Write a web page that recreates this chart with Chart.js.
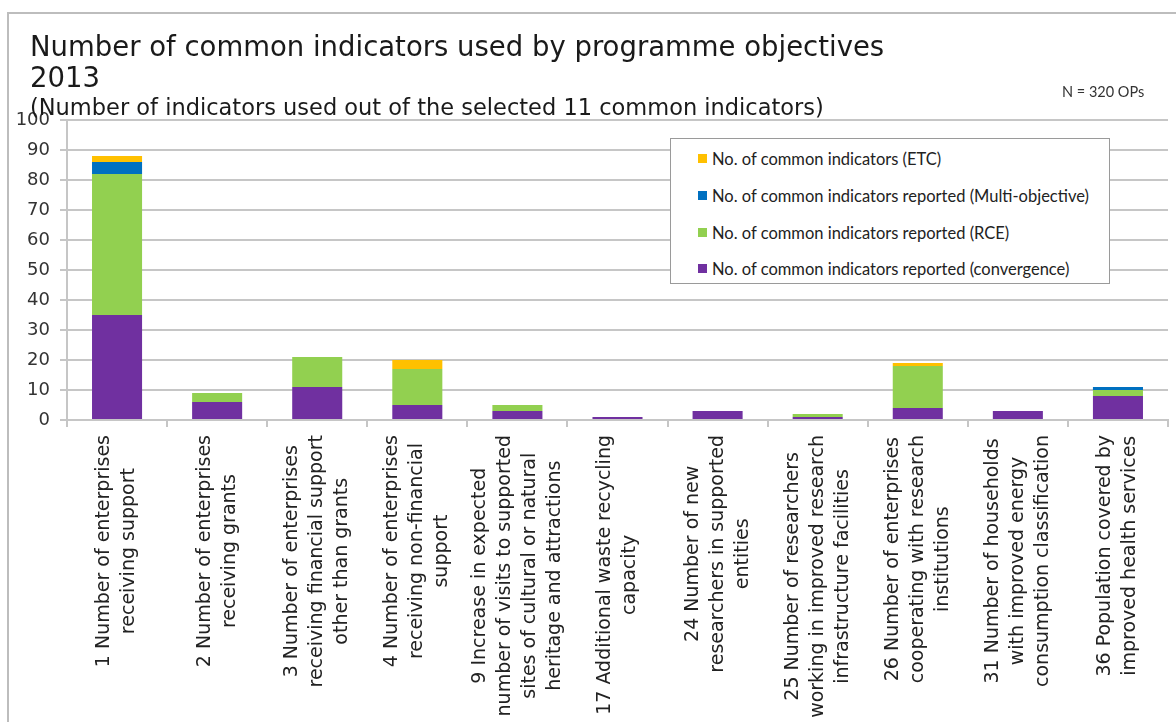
<!DOCTYPE html>
<html>
<head>
<meta charset="utf-8">
<title>Common indicators by programme objective</title>
<script src="https://cdn.jsdelivr.net/npm/chart.js@4.4.1/dist/chart.umd.min.js"></script>
<style>
  html, body { margin: 0; padding: 0; background: #fff; overflow: hidden; }
  #wrap { position: relative; width: 1176px; height: 722px; }
  #frame { position: absolute; left: 7px; top: 12px; right: -10px; bottom: -10px;
           border-left: 2px solid #bdbdbd; border-top: 2px solid #bdbdbd; }
  #canvas { position: absolute; left: 0; top: 0; }
  #legend { position: absolute; left: 670px; top: 138px; width: 440px; height: 146px;
            border: 1px solid #9a9a9a; background: #fff; box-sizing: border-box;
            font-family: Lato, "Liberation Sans", sans-serif; font-size: 16.5px; color: #222; }
  #legend .item { position: absolute; left: 27px; height: 20px; line-height: 20px; white-space: nowrap; }
  #legend .box { display: inline-block; width: 9px; height: 9px; margin-right: 5px; vertical-align: 2px; }
</style>
</head>
<body>
<div id="wrap">
  <div id="frame"></div>
  <canvas id="canvas" width="1176" height="722"></canvas>
  <div id="legend"></div>
</div>
<script>
// indicator categories (each entry is the wrapped label lines)
var indicators = [
  ["1 Number of enterprises", "receiving support"],
  ["2 Number of enterprises", "receiving grants"],
  ["3 Number of enterprises", "receiving financial support", "other than grants"],
  ["4 Number of enterprises", "receiving non-financial", "support"],
  ["9 Increase in expected", "number of visits to supported", "sites of cultural or natural", "heritage and attractions"],
  ["17 Additional waste recycling", "capacity"],
  ["24 Number of new", "researchers in supported", "entities"],
  ["25 Number of researchers", "working in improved research", "infrastructure facilities"],
  ["26 Number of enterprises", "cooperating with research", "institutions"],
  ["31 Number of households", "with improved energy", "consumption classification"],
  ["36 Population covered by", "improved health services"]
];

// number of OPs reporting each indicator, per objective
var convergence    = [35, 6, 11, 5, 3, 1, 3, 1, 4, 3, 8];
var rce            = [47, 3, 10, 12, 2, 0, 0, 1, 14, 0, 2];
var multiObjective = [4, 0, 0, 0, 0, 0, 0, 0, 0, 0, 1];
var etc            = [2, 0, 0, 3, 0, 0, 0, 0, 1, 0, 0];

var yTicks = [0, 10, 20, 30, 40, 50, 60, 70, 80, 90, 100];

var titleLines = ["Number of common indicators used by programme objectives", "2013"];
var subTitle = "(Number of indicators used out of the selected 11 common indicators)";
var sampleNote = "N = 320 OPs";

var axisFont = "DejaVu Sans";
var gridColor = "#c6c6c6";

// header texts: title, year and subtitle
var headerPlugin = {
  id: 'header',
  afterDraw: function(chart) {
    var ctx = chart.ctx;
    ctx.save();
    ctx.fillStyle = '#1a1a1a';
    ctx.textAlign = 'left';
    ctx.textBaseline = 'alphabetic';
    ctx.font = '27.5px "' + axisFont + '"';
    ctx.fillText(titleLines[0], 30, 56);
    ctx.fillText(titleLines[1], 30, 87);
    ctx.font = '22.5px "' + axisFont + '"';
    ctx.fillText(subTitle, 30, 115);
    ctx.fillStyle = '#333';
    ctx.font = '14.5px Lato, "Liberation Sans"';
    ctx.fillText(sampleNote, 1062, 97);
    ctx.restore();
  }
};

// rotated, centred multi-line category labels under the x axis
var xLabelPlugin = {
  id: 'xLabels',
  afterDraw: function(chart) {
    var ctx = chart.ctx;
    var xs = chart.scales.x;
    var top = xs.top + 15;
    var lineGap = 25;
    ctx.save();
    ctx.font = '19px "' + axisFont + '"';
    ctx.fillStyle = '#222';
    ctx.textAlign = 'center';
    ctx.textBaseline = 'middle';
    chart.data.labels.forEach(function(lines, i) {
      var maxW = 0;
      lines.forEach(function(l) { maxW = Math.max(maxW, ctx.measureText(l).width); });
      var x = xs.getPixelForValue(i);
      ctx.save();
      ctx.translate(x, top + maxW / 2);
      ctx.rotate(-Math.PI / 2);
      lines.forEach(function(l, k) {
        ctx.fillText(l, 0, (k - (lines.length - 1) / 2) * lineGap);
      });
      ctx.restore();
    });
    ctx.restore();
  }
};

var datasets = [
  { label: "No. of common indicators reported (convergence)", data: convergence, backgroundColor: '#7030A0' },
  { label: "No. of common indicators reported (RCE)", data: rce, backgroundColor: '#92D050' },
  { label: "No. of common indicators reported (Multi-objective)", data: multiObjective, backgroundColor: '#0070C0' },
  { label: "No. of common indicators (ETC)", data: etc, backgroundColor: '#FFC000' }
];

var config = {
  type: 'bar',
  data: {
    labels: indicators,
    datasets: datasets
  },
  options: {
    responsive: false,
    animation: false,
    devicePixelRatio: 1,
    layout: { padding: { top: 120, right: 8, left: 0, bottom: 0 } },
    datasets: {
      bar: { categoryPercentage: 1.0, barPercentage: 0.5, borderWidth: 0 }
    },
    plugins: {
      legend: { display: false },
      title: { display: false },
      tooltip: { enabled: false }
    },
    scales: {
      x: {
        stacked: true,
        offset: true,
        grid: { offset: true, drawOnChartArea: false, drawTicks: true, tickLength: 7, color: gridColor, lineWidth: 2 },
        border: { display: true, color: gridColor, width: 2 },
        ticks: { display: false },
        afterFit: function(scale) { scale.height = 302; }
      },
      y: {
        stacked: true,
        min: 0,
        max: 100,
        afterBuildTicks: function(scale) {
          scale.ticks = yTicks.map(function(v) { return { value: v }; });
        },
        grid: { color: gridColor, lineWidth: 2, tickLength: 7 },
        border: { display: true, color: gridColor, width: 2 },
        ticks: { font: { family: axisFont, size: 18 }, color: '#333', padding: 10 },
        afterFit: function(scale) { scale.width = 67; }
      }
    }
  },
  plugins: [headerPlugin, xLabelPlugin]
};

var ctx = document.getElementById('canvas').getContext('2d');
window.myBar = new Chart(ctx, config);

// legend box, listed top to bottom in reverse stacking order
var legendEl = document.getElementById('legend');
var rows = [20, 57, 94, 130];
myBar.data.datasets.slice().reverse().forEach(function(ds, i) {
  var item = document.createElement('div');
  item.className = 'item';
  item.style.top = (rows[i] - 10) + 'px';
  var box = document.createElement('span');
  box.className = 'box';
  box.style.background = ds.backgroundColor;
  item.appendChild(box);
  item.appendChild(document.createTextNode(ds.label));
  legendEl.appendChild(item);
});
</script>
</body>
</html>
